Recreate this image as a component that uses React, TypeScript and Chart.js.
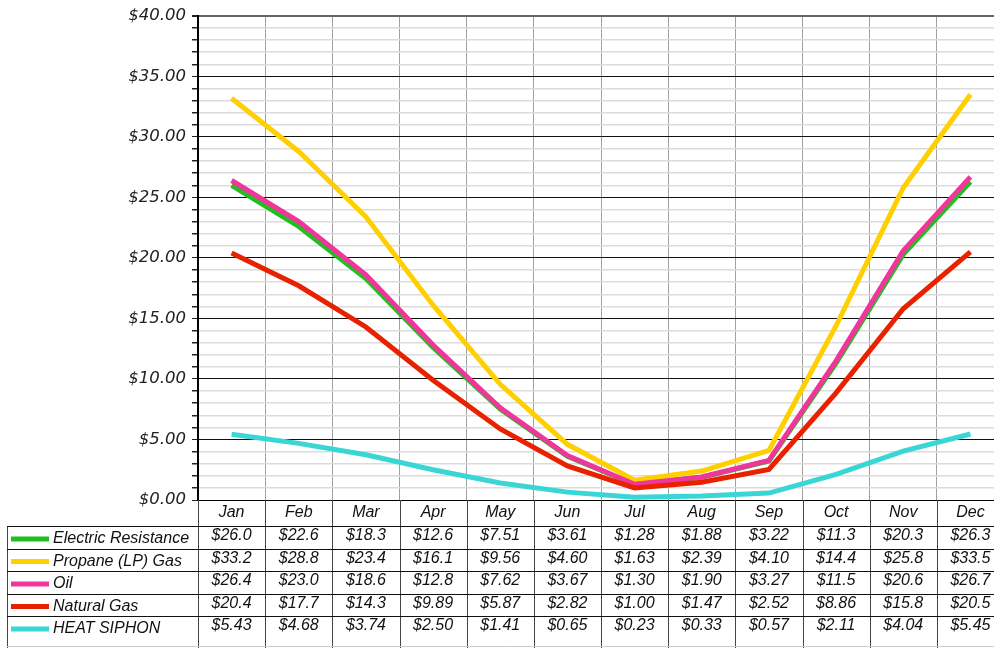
import React, { useEffect, useRef } from "react";
import { Chart, registerables } from "chart.js";

Chart.register(...registerables);

const months = ["Jan", "Feb", "Mar", "Apr", "May", "Jun", "Jul", "Aug", "Sep", "Oct", "Nov", "Dec"];
const electric = [26.0, 22.6, 18.3, 12.6, 7.51, 3.61, 1.28, 1.88, 3.22, 11.3, 20.3, 26.3];
const propane = [33.2, 28.8, 23.4, 16.1, 9.56, 4.6, 1.63, 2.39, 4.1, 14.4, 25.8, 33.5];
const oil = [26.4, 23.0, 18.6, 12.8, 7.62, 3.67, 1.3, 1.9, 3.27, 11.5, 20.6, 26.7];
const naturalGas = [20.4, 17.7, 14.3, 9.89, 5.87, 2.82, 1.0, 1.47, 2.52, 8.86, 15.8, 20.5];
const heatSiphon = [5.43, 4.68, 3.74, 2.5, 1.41, 0.65, 0.23, 0.33, 0.57, 2.11, 4.04, 5.45];

const seriesNames = ["Electric Resistance", "Propane (LP) Gas", "Oil", "Natural Gas", "HEAT SIPHON"];
const seriesColors = ["#1fbf1f", "#ffcf00", "#f0369a", "#e82200", "#3ad6d6"];
const seriesData = [electric, propane, oil, naturalGas, heatSiphon];

const fmt = (v: number) => "$" + (v >= 10 ? v.toFixed(1) : v.toFixed(2));

const tablePlugin = {
  id: "dataTable",
  afterDraw(chart: any) {
    const ctx = chart.ctx as CanvasRenderingContext2D;
    const x = chart.scales.x;
    const area = chart.chartArea;
    const colW = x.getPixelForValue(1) - x.getPixelForValue(0);
    const left = area.left;
    const right = area.right;
    const top = area.bottom;
    const headerBottom = top + 26;
    const rowH = 22.5;
    const tableLeft = 7;
    const bottom = 660;
    ctx.save();
    ctx.strokeStyle = "#444";
    ctx.lineWidth = 1;
    for (let i = 0; i <= months.length; i++) {
      const px = Math.round(left + colW * i) + 0.5;
      ctx.beginPath();
      ctx.moveTo(px, top);
      ctx.lineTo(px, bottom);
      ctx.stroke();
    }
    ctx.beginPath();
    ctx.moveTo(tableLeft + 0.5, headerBottom);
    ctx.lineTo(tableLeft + 0.5, bottom);
    ctx.stroke();
    ctx.strokeStyle = "#111";
    for (let r = 0; r < seriesNames.length; r++) {
      const py = Math.round(headerBottom + rowH * r) + 0.5;
      ctx.beginPath();
      ctx.moveTo(tableLeft, py);
      ctx.lineTo(right, py);
      ctx.stroke();
    }
    ctx.strokeStyle = "#cccccc";
    ctx.beginPath();
    ctx.moveTo(tableLeft, 646.5);
    ctx.lineTo(right, 646.5);
    ctx.stroke();
    ctx.fillStyle = "#111";
    ctx.font = "italic 16px 'Liberation Sans', Arial, sans-serif";
    ctx.textAlign = "center";
    ctx.textBaseline = "middle";
    months.forEach((m, i) => {
      ctx.fillText(m, x.getPixelForValue(i), top + 13);
    });
    seriesData.forEach((data, r) => {
      const rowTop = headerBottom + rowH * r;
      ctx.textAlign = "center";
      ctx.fillStyle = "#111";
      data.forEach((v, i) => {
        ctx.fillText(fmt(v), x.getPixelForValue(i), rowTop + 10);
      });
      ctx.strokeStyle = seriesColors[r];
      ctx.lineWidth = 5;
      ctx.beginPath();
      ctx.moveTo(11, rowTop + 13);
      ctx.lineTo(49, rowTop + 13);
      ctx.stroke();
      ctx.lineWidth = 1;
      ctx.textAlign = "left";
      ctx.fillStyle = "#111";
      ctx.fillText(seriesNames[r], 53, rowTop + 13);
    });
    ctx.restore();
  },
};

export default function App() {
  const ref = useRef<HTMLCanvasElement | null>(null);
  useEffect(() => {
    if (!ref.current) return;
    const chart = new Chart(ref.current, {
      type: "line",
      data: {
        labels: months,
        datasets: seriesData.map((d, i) => ({
          label: seriesNames[i],
          data: d,
          borderColor: seriesColors[i],
          backgroundColor: seriesColors[i],
          borderWidth: 5,
          pointRadius: 0,
          tension: 0,
          fill: false,
          order: 5 - i,
        })),
      },
      options: {
        animation: false,
        responsive: true,
        maintainAspectRatio: false,
        layout: { padding: { top: 14, bottom: 148, left: 0, right: 0 } },
        plugins: { legend: { display: false }, tooltip: { enabled: false } },
        scales: {
          x: {
            offset: true,
            ticks: { display: false },
            grid: { offset: true, color: "#a0a0a0", lineWidth: 1, drawTicks: false },
            border: { display: true, color: "#000", width: 1 },
            afterFit: (s: any) => {
              s.height = 0;
            },
          },
          y: {
            min: 0,
            max: 40,
            ticks: {
              stepSize: 1,
              autoSkip: false,
              padding: 6,
              color: "#222",
              font: { family: "'DejaVu Sans', Verdana, sans-serif", size: 16.5, style: "italic" },
              callback: (v: any) => (Number(v) % 5 === 0 ? "$" + Number(v).toFixed(2) : ""),
            },
            grid: {
              color: (c: any) => (c.tick && c.tick.value % 5 === 0 ? (c.tick.value === 40 ? "#666" : "#111") : "#dcdcdc"),
              lineWidth: (c: any) => (c.tick && c.tick.value === 40 ? 2 : c.tick && c.tick.value % 5 === 0 ? 1 : 1.5),
              tickColor: "#222",
              tickLength: 6,
              drawTicks: true,
            },
            border: { display: true, color: "#000", width: 2 },
            afterFit: (s: any) => {
              s.width = 198;
            },
          },
        },
      },
      plugins: [tablePlugin],
    });
    return () => chart.destroy();
  }, []);
  return (
    <div style={{ position: "absolute", left: 0, top: 0, width: 994, height: 648, overflow: "hidden", background: "#fff" }}>
      <div style={{ position: "relative", width: 1004, height: 648 }}>
        <canvas ref={ref} />
      </div>
    </div>
  );
}
